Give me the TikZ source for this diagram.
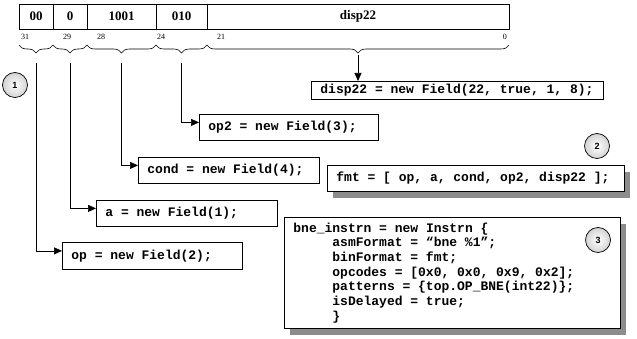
\documentclass[tikz,border=0pt]{standalone}
\usepackage{fontspec}
\setmainfont{Liberation Serif}
\newfontfamily\codefont{Liberation Mono}[WordSpace={1,0,0}]
\newfontfamily\markfont{Liberation Sans}
\usepackage{xcolor}
\usepackage{tikz}
\usetikzlibrary{arrows.meta, positioning, decorations.pathreplacing, shadows, calc}

\newcommand{\ind}{\hphantom{xxxxx}}
\newcommand{\fixspaces}{\frenchspacing\spaceskip=0.6em\xspaceskip=0.6em\relax}

\begin{document}
\begin{tikzpicture}[
        x=1pt, y=1pt,
        node distance=0pt,
        field/.style={rectangle, draw, line width=0.8pt, minimum height=25pt, inner sep=0pt, outer sep=0pt, font=\fontsize{13}{15}\selectfont\bfseries},
        bitno/.style={inner sep=0pt, font=\fontsize{8}{9}\selectfont},
        brc/.style={decorate, decoration={brace, mirror, amplitude=8pt}, line width=0.6pt},
        code/.style={rectangle, draw, line width=0.8pt, fill=white, inner xsep=9pt, inner ysep=0pt, font=\codefont\bfseries\fontsize{13}{14.7}\selectfont\fixspaces, execute at begin node=\fixspaces},
        shd/.style={drop shadow={shadow xshift=6pt, shadow yshift=-7pt, fill=black!45, opacity=1}},
        num/.style={circle, draw, line width=0.7pt, shading=radial, inner color=white, outer color=gray!35, minimum size=25pt, inner sep=0pt, font=\markfont\bfseries\fontsize{9}{10}\selectfont},
        conn/.style={-{Triangle[length=8pt, width=7pt]}, line width=0.7pt}
    ]
    \useasboundingbox (0,0) rectangle (637,-339);

    % Register fields
    \node[field, minimum width=34pt, anchor=north west] (f00) at (19,-4) {00};
    \node[field, minimum width=34pt, right=of f00] (f0) {0};
    \node[field, minimum width=69pt, right=of f0] (f1001) {1001};
    \node[field, minimum width=51pt, right=of f1001] (f010) {010};
    \node[field, minimum width=302pt, right=of f010] (fdisp) {disp22};

    % Bit numbers
    \node[bitno, anchor=west] (b31) at (21,-37) {31};
    \node[bitno, anchor=west] (b29) at (63,-37) {29};
    \node[bitno, anchor=west] (b28) at (97,-37) {28};
    \node[bitno, anchor=west] (b24) at (157,-37) {24};
    \node[bitno, anchor=west] (b21) at (217,-37) {21};
    \node[bitno, anchor=east] (b0) at (507,-37) {0};

    % Braces
    \foreach \f in {f00, f0, f1001, f010, fdisp}
        \draw[brc] ($(\f.south west)+(0,-16)$) -- ($(\f.south east)+(0,-16)$);

    \coordinate (t00) at ($(f00.south)+(0,-34)$);
    \coordinate (t0) at ($(f0.south)+(0,-34)$);
    \coordinate (t1001) at ($(f1001.south)+(0,-34)$);
    \coordinate (t010) at ($(f010.south)+(0,-34)$);
    \coordinate (tdisp) at ($(fdisp.south)+(0,-26)$);

    % Field declarations
    \node[code, text width=274pt, minimum height=18pt, anchor=north west] (disp) at (311,-81) {disp22 = new Field(22, true, 1, 8);};
    \node[code, text width=161pt, minimum height=26pt, anchor=north west] (op2) at (199,-114) {op2 = new Field(3);};
    \node[code, text width=163pt, minimum height=26pt, anchor=north west] (cond) at (138,-157) {cond = new Field(4);};
    \node[code, text width=163pt, minimum height=26pt, anchor=north west] (a) at (96,-200) {a = new Field(1);};
    \node[code, text width=162pt, minimum height=27pt, anchor=north west] (op) at (62,-242) {op = new Field(2);};

    % Format and instruction
    \node[code, shd, text width=279pt, minimum height=26pt, anchor=north west] (fmt) at (327,-165) {fmt = [ op, a, cond, op2, disp22 ];};
    \node[code, shd, text width=318pt, minimum height=111pt, anchor=north west] (bne) at (284,-217) {bne\_instrn = new Instrn \{\\
        \ind asmFormat = “bne \%1”;\\
        \ind binFormat = fmt;\\
        \ind opcodes = [0x0, 0x0, 0x9, 0x2];\\
        \ind patterns = \{top.OP\_BNE(int22)\};\\
        \ind isDelayed = true;\\
        \ind \}};

    % Step numbers
    \node[num] (n1) at (15,-85) {1};
    \node[num] (n2) at (597,-146) {2};
    \node[num] (n3) at (598,-240) {3};

    % Arrows
    \draw[conn] (tdisp) -- (tdisp |- disp.north);
    \draw[conn] (t010) |- ([yshift=5pt]op2.west);
    \draw[conn] (t1001) |- ([yshift=5pt]cond.west);
    \draw[conn] (t0) |- ([yshift=5pt]a.west);
    \draw[conn] (t00) |- ([yshift=5pt]op.west);
\end{tikzpicture}
\end{document}
